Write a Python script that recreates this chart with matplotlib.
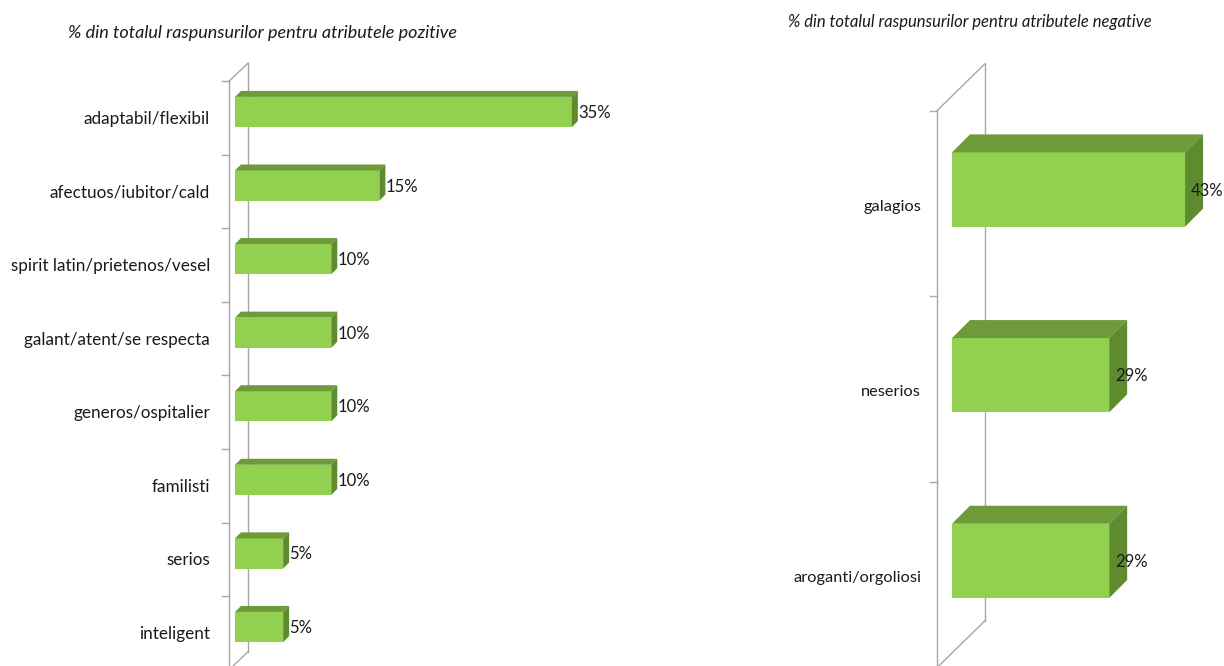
import numpy as np
import matplotlib.pyplot as plt
from matplotlib.patches import Polygon

plt.rcParams['font.family'] = ['Lato', 'DejaVu Sans']

# date
poz_labels = ['adaptabil/flexibil', 'afectuos/iubitor/cald', 'spirit latin/prietenos/vesel',
              'galant/atent/se respecta', 'generos/ospitalier', 'familisti', 'serios', 'inteligent']
poz_values = [35, 15, 10, 10, 10, 10, 5, 5]

neg_labels = ['galagios', 'neserios', 'aroganti/orgoliosi']
neg_values = [43, 29, 29]

title_poz = '% din totalul raspunsurilor pentru atributele pozitive'
title_neg = '% din totalul raspunsurilor pentru atributele negative'

# culori
c_front = '#92d050'
c_top = '#6e9a3a'
c_side = '#5f8b2f'
c_wall = '#a6a6a6'

W, H = 1224, 666
fig = plt.figure(figsize=(W / 100, H / 100), dpi=100)


def shift(ax, x, y, dx, dy):
    # muta un punct (date) cu dx, dy pixeli pe ecran
    px, py = ax.transData.transform((x, y))
    return ax.transData.inverted().transform((px + dx, py - dy))


def panel(ax, labels, values, xmax, bar_h, depth, front, back, lab_dx, lab_dy, fs, fs_val):
    n = len(labels)
    ax.set_xlim(0, xmax)
    ax.set_ylim(n - 0.5, -0.5)
    ax.axis('off')
    ypos = np.arange(n)

    # pereti / axa
    top_f = shift(ax, 0, -0.5, *front)
    bot_f = shift(ax, 0, n - 0.5, *front)
    top_b = shift(ax, 0, -0.5, *back)
    bot_b = shift(ax, 0, n - 0.5, *back)
    kw = dict(color=c_wall, lw=1, clip_on=False, zorder=1)
    ax.plot([top_f[0], bot_f[0]], [top_f[1], bot_f[1] + 1], **kw)
    ax.plot([top_b[0], bot_b[0]], [top_b[1], bot_b[1]], **kw)
    ax.plot([top_f[0], top_b[0]], [top_f[1], top_b[1]], **kw)
    ax.plot([bot_f[0], bot_b[0]], [bot_f[1], bot_b[1]], **kw)
    for k in range(n + 1):
        a = shift(ax, 0, k - 0.5, front[0] - 7, front[1])
        b = shift(ax, 0, k - 0.5, *front)
        ax.plot([a[0], b[0]], [a[1], b[1]], **kw)

    # bare 3D
    ax.barh(ypos, values, height=bar_h, color=c_front, zorder=3)
    for y, v, lab in zip(ypos, values, labels):
        t0 = (0, y - bar_h / 2)
        t1 = (v, y - bar_h / 2)
        b1 = (v, y + bar_h / 2)
        top = [t0, t1, shift(ax, *t1, depth, -depth), shift(ax, *t0, depth, -depth)]
        side = [t1, b1, shift(ax, *b1, depth, -depth), shift(ax, *t1, depth, -depth)]
        ax.add_patch(Polygon(top, closed=True, color=c_top, zorder=3, lw=0))
        ax.add_patch(Polygon(side, closed=True, color=c_side, zorder=3, lw=0))
        p = shift(ax, v, y, 6, 1)
        ax.text(p[0], p[1], f'{v}%', ha='left', va='center', fontsize=fs_val,
                color='#1a1a1a', zorder=4, clip_on=False)
        q = shift(ax, 0, y, lab_dx, lab_dy)
        ax.text(q[0], q[1], lab, ha='right', va='center',
                fontsize=fs, color='#1a1a1a', clip_on=False)


# stanga: 9.63 px / %
ax1 = fig.add_axes([235 / W, (H - 663.8) / H, 385 / W, 588.6 / H])
panel(ax1, poz_labels, poz_values, 40, 0.41, 6, (-6, 6), (13, -12), -25, 7, 12.3, 12)

# dreapta: 5.42 px / %
ax2 = fig.add_axes([952 / W, (H - 653.7) / H, 271 / W, 557 / H])
panel(ax2, neg_labels, neg_values, 50, 0.40, 18, (-15, 14), (33, -33), -31, 17, 11.8, 12)

fig.text(262 / W, 1 - 33 / H, title_poz, ha='center', va='center', fontsize=13,
         style='italic', color='#1a1a1a')
fig.text(970 / W, 1 - 22 / H, title_neg, ha='center', va='center', fontsize=12,
         style='italic', color='#1a1a1a')

fig.savefig('out.png', dpi=100)
